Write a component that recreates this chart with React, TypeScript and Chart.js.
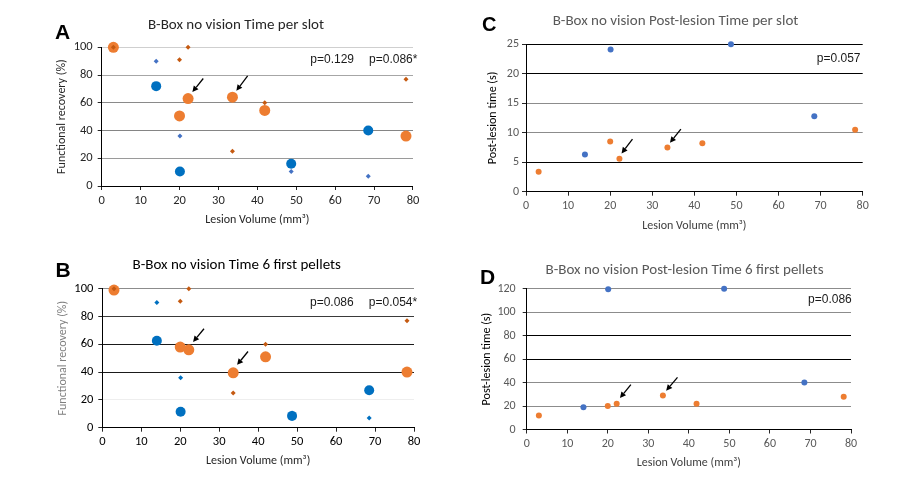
import { useEffect, useRef } from 'react'
import { Chart, registerables } from 'chart.js'

Chart.register(...registerables)

// ─── Data ───────────────────────────────────────────────────────────────────

// Lesion volumes (mm³) of the two groups, shared by every panel.
const ORANGE_VOLUME = [3, 20, 22.2, 33.6, 41.9, 78.2]
const BLUE_VOLUME   = [14, 20.1, 48.7, 68.5]

// Pre-lesion values (small markers), identical in A and B.
const ORANGE_PRE = [100, 91, 100, 25, 60, 77]
const BLUE_PRE   = [90, 36, 10.5, 7]

// A – Time per slot, functional recovery (%)
const A_ORANGE = [100, 50.5, 63, 64, 54.5, 36]
const A_BLUE   = [72, 10.5, 16, 40]

// B – Time 6 first pellets, functional recovery (%)
const B_ORANGE = [99, 58, 56, 39.5, 51, 40]
const B_BLUE   = [62.5, 11.5, 8.5, 27]

// C – Post-lesion time per slot (s)
const C_ORANGE = [3.4, 8.5, 5.6, 7.5, 8.2, 10.5]
const C_BLUE   = [6.3, 24.1, 25, 12.8]

// D – Post-lesion time 6 first pellets (s)
const D_ORANGE = [12, 20, 22, 29, 22, 28]
const D_BLUE   = [19, 119.5, 120, 40]

// Arrows [fromX, fromY, toX, toY] in data units
const A_ARROWS = [[26.1, 77.5, 23.3, 67.8], [37.5, 79.4, 34.6, 68.6]]
const B_ARROWS = [[26.1, 71.2, 23.3, 61.6], [37.4, 54.8, 34.6, 45.2]]
const C_ARROWS = [[25.3, 8.9, 22.7, 6.5], [36.8, 10.6, 34.2, 8.3]]
const D_ARROWS = [[25.7, 38.2, 23.0, 26.9], [37.2, 44.4, 34.4, 33.1]]

// p-value labels
const A_PVALS = [{ text: 'p=0.129', x: 53.6, y: 91.4 }, { text: 'p=0.086*', x: 68.7, y: 91.4 }]
const B_PVALS = [{ text: 'p=0.086', x: 53.3, y: 90.1 }, { text: 'p=0.054*', x: 68.4, y: 90.1 }]
const C_PVALS = [{ text: 'p=0.057', x: 69.1, y: 22.5 }]
const D_PVALS = [{ text: 'p=0.086', x: 69.4, y: 111 }]

// ─── Styles ─────────────────────────────────────────────────────────────────

const PAGE_W = 902
const PAGE_H = 478
const FONT   = "Carlito, Calibri, Lato, 'Open Sans', sans-serif"
const P_FONT = "'Liberation Sans', Arial, sans-serif"

const ORANGE       = '#ED7D31'
const ORANGE_DARK  = '#C55A11'
const BLUE_BRIGHT  = '#0070C0'
const BLUE_OFFICE  = '#4472C4'

// Horizontal grid line colour per y tick (the source image mixes shades)
const A_GRID: Record<number, string> = { 0: '#000', 20: '#9a9a9a', 40: '#858585', 60: '#8a8a8a', 80: '#a6a6a6', 100: '#cfcfcf' }
const B_GRID: Record<number, string> = { 0: '#000', 20: '#eeeeee', 40: '#1a1a1a', 60: '#1a1a1a', 80: '#3a3a3a', 100: '#8c8c8c' }
const C_GRID: Record<number, string> = { 0: '#000', 5: '#000', 10: '#8c8c8c', 15: '#8c8c8c', 20: '#000', 25: '#000' }
const D_GRID: Record<number, string> = { 0: '#000', 20: '#8c8c8c', 40: '#8c8c8c', 60: '#000', 80: '#000', 100: '#8c8c8c', 120: '#8c8c8c' }

interface PanelSpec {
  letter: string
  letterPos: [number, number, number]
  title: string
  titlePos: [number, number]
  titleColor: string
  yTitle: string
  yTitleColor: string
  tickColor: string
  tickSize: number
  yMax: number
  yStep: number
  area: { l: number; t: number; r: number; b: number }
  yScaleW: number
  xScaleH: number
  yTickPad: number
  grid: Record<number, string>
  datasets: any[]
  arrows: number[][]
  pvals: { text: string; x: number; y: number }[]
}

function pts(xs: number[], ys: number[]) {
  return xs.map((x, i) => ({ x, y: ys[i] }))
}

function series(label: string, xs: number[], ys: number[], color: string, radius: number, style = 'circle') {
  return {
    label,
    data: pts(xs, ys),
    backgroundColor: color,
    borderColor: color,
    borderWidth: 0,
    pointStyle: style,
    pointRadius: radius,
    pointHoverRadius: radius,
    clip: false,
  }
}

const PANELS: PanelSpec[] = [
  {
    letter: 'A', letterPos: [55, 38.5, 21],
    title: 'B-Box no vision Time per slot', titlePos: [236, 25], titleColor: '#262626',
    yTitle: 'Functional recovery (%)', yTitleColor: '#262626', tickColor: '#262626', tickSize: 12.5,
    yMax: 100, yStep: 20,
    area: { l: 101.7, t: 47.3, r: 413, b: 186 }, yScaleW: 47.2, xScaleH: 41.2, yTickPad: 5,
    grid: A_GRID,
    datasets: [
      series('pre orange', ORANGE_VOLUME, ORANGE_PRE, ORANGE_DARK, 2.5, 'rectRot'),
      series('pre blue', BLUE_VOLUME, BLUE_PRE, BLUE_OFFICE, 2.5, 'rectRot'),
      series('orange', ORANGE_VOLUME, A_ORANGE, ORANGE, 5.5),
      series('blue', BLUE_VOLUME, A_BLUE, BLUE_BRIGHT, 5),
    ],
    arrows: A_ARROWS, pvals: A_PVALS,
  },
  {
    letter: 'B', letterPos: [55.5, 276.5, 21],
    title: 'B-Box no vision Time 6 first pellets', titlePos: [236.7, 265.7], titleColor: '#000',
    yTitle: 'Functional recovery (%)', yTitleColor: '#7f7f7f', tickColor: '#000', tickSize: 12.5,
    yMax: 100, yStep: 20,
    area: { l: 102.3, t: 288.7, r: 414, b: 427.7 }, yScaleW: 46.2, xScaleH: 40.5, yTickPad: 5,
    grid: B_GRID,
    datasets: [
      series('pre orange', ORANGE_VOLUME, ORANGE_PRE, ORANGE_DARK, 2.5, 'rectRot'),
      series('pre blue', BLUE_VOLUME, BLUE_PRE, BLUE_BRIGHT, 2.5, 'rectRot'),
      series('orange', ORANGE_VOLUME, B_ORANGE, ORANGE, 5.5),
      series('blue', BLUE_VOLUME, B_BLUE, BLUE_BRIGHT, 5),
    ],
    arrows: B_ARROWS, pvals: B_PVALS,
  },
  {
    letter: 'C', letterPos: [482, 30.7, 20],
    title: 'B-Box no vision Post-lesion Time per slot', titlePos: [675.5, 21.7], titleColor: '#595959',
    yTitle: 'Post-lesion time (s)', yTitleColor: '#000', tickColor: '#595959', tickSize: 12,
    yMax: 25, yStep: 5,
    area: { l: 526, t: 44.3, r: 862.7, b: 191.7 }, yScaleW: 40.7, xScaleH: 41.5, yTickPad: 3,
    grid: C_GRID,
    datasets: [
      series('blue', BLUE_VOLUME, C_BLUE, BLUE_OFFICE, 3),
      series('orange', ORANGE_VOLUME, C_ORANGE, ORANGE, 3),
    ],
    arrows: C_ARROWS, pvals: C_PVALS,
  },
  {
    letter: 'D', letterPos: [480, 284, 21],
    title: 'B-Box no vision Post-lesion Time 6 first pellets', titlePos: [684.5, 270.7], titleColor: '#595959',
    yTitle: 'Post-lesion time (s)', yTitleColor: '#000', tickColor: '#595959', tickSize: 12,
    yMax: 120, yStep: 20,
    area: { l: 526.7, t: 288.7, r: 851, b: 429.5 }, yScaleW: 47.2, xScaleH: 41, yTickPad: 7,
    grid: D_GRID,
    datasets: [
      series('blue', BLUE_VOLUME, D_BLUE, BLUE_OFFICE, 3),
      series('orange', ORANGE_VOLUME, D_ORANGE, ORANGE, 3),
    ],
    arrows: D_ARROWS, pvals: D_PVALS,
  },
]

// ─── Decoration plugin: arrows, p-values, panel letter and title ────────────

const decorPlugin = {
  id: 'panelDecor',
  afterDatasetsDraw(chart: any, _args: any, opts: any) {
    const spec: PanelSpec = opts.spec
    if (!spec) return
    const { ctx } = chart
    const xs = chart.scales.x
    const ys = chart.scales.y
    ctx.save()

    // arrows
    ctx.strokeStyle = '#000'
    ctx.fillStyle = '#000'
    ctx.lineWidth = 1.3
    for (const [x0, y0, x1, y1] of spec.arrows) {
      const px0 = xs.getPixelForValue(x0), py0 = ys.getPixelForValue(y0)
      const px1 = xs.getPixelForValue(x1), py1 = ys.getPixelForValue(y1)
      const ang = Math.atan2(py1 - py0, px1 - px0)
      const head = 6, half = 3
      const bx = px1 - head * Math.cos(ang), by = py1 - head * Math.sin(ang)
      ctx.beginPath()
      ctx.moveTo(px0, py0)
      ctx.lineTo(bx, by)
      ctx.stroke()
      ctx.beginPath()
      ctx.moveTo(px1, py1)
      ctx.lineTo(bx + half * Math.sin(ang), by - half * Math.cos(ang))
      ctx.lineTo(bx - half * Math.sin(ang), by + half * Math.cos(ang))
      ctx.closePath()
      ctx.fill()
    }

    // p-values
    ctx.font = `12px ${P_FONT}`
    ctx.fillStyle = '#1a1a1a'
    ctx.textAlign = 'left'
    ctx.textBaseline = 'middle'
    for (const p of spec.pvals) {
      ctx.fillText(p.text, xs.getPixelForValue(p.x), ys.getPixelForValue(p.y))
    }

    // panel title
    ctx.font = `15px ${FONT}`
    ctx.fillStyle = spec.titleColor
    ctx.textAlign = 'center'
    ctx.fillText(spec.title, spec.titlePos[0], spec.titlePos[1])

    // panel letter
    const [lx, ly, ls] = spec.letterPos
    ctx.font = `bold ${ls}px ${P_FONT}`
    ctx.fillStyle = '#000'
    ctx.textAlign = 'left'
    ctx.textBaseline = 'alphabetic'
    ctx.fillText(spec.letter, lx, ly)

    ctx.restore()
  },
}

// ─── Component ──────────────────────────────────────────────────────────────

function Panel({ spec }: { spec: PanelSpec }) {
  const canvasRef = useRef<HTMLCanvasElement>(null)

  useEffect(() => {
    const canvas = canvasRef.current
    if (!canvas) return
    const { l, t, r, b } = spec.area
    const tickFont = { family: FONT, size: spec.tickSize }
    const titleFont = { family: FONT, size: 12, lineHeight: 1.2 }

    const chart = new Chart(canvas, {
      type: 'scatter',
      data: { datasets: spec.datasets },
      plugins: [decorPlugin],
      options: {
        animation: false,
        responsive: false,
        devicePixelRatio: window.devicePixelRatio || 1,
        layout: {
          padding: {
            left: l - spec.yScaleW,
            top: t,
            right: PAGE_W - r,
            bottom: PAGE_H - b - spec.xScaleH,
          },
        },
        plugins: {
          legend: { display: false },
          tooltip: { enabled: false },
          title: { display: false },
          panelDecor: { spec },
        } as any,
        scales: {
          x: {
            type: 'linear',
            min: 0,
            max: 80,
            afterFit: (s: any) => { s.height = spec.xScaleH },
            ticks: { stepSize: 10, color: spec.tickColor, font: tickFont, padding: 3, maxRotation: 0 },
            grid: {
              drawOnChartArea: false,
              drawTicks: true,
              tickLength: 4,
              tickColor: '#262626',
            },
            border: { display: true, color: '#000', width: 1 },
            title: {
              display: true,
              text: 'Lesion Volume (mm³)',
              color: spec.tickColor === '#595959' ? '#404040' : '#262626',
              font: titleFont,
              padding: 0,
            },
          },
          y: {
            type: 'linear',
            min: 0,
            max: spec.yMax,
            afterFit: (s: any) => { s.width = spec.yScaleW },
            ticks: { stepSize: spec.yStep, color: spec.tickColor, font: tickFont, padding: spec.yTickPad },
            grid: {
              color: (ctx: any) => spec.grid[ctx.tick?.value] ?? '#8c8c8c',
              lineWidth: 1,
              drawTicks: true,
              tickLength: 4,
              tickColor: '#262626',
            },
            border: { display: true, color: '#000', width: 1 },
            title: {
              display: true,
              text: spec.yTitle,
              color: spec.yTitleColor,
              font: titleFont,
              padding: 0,
            },
          },
        },
      } as any,
    })

    return () => {
      chart.destroy()
    }
  }, [spec])

  return (
    <canvas
      ref={canvasRef}
      width={PAGE_W}
      height={PAGE_H}
      style={{ position: 'absolute', left: 0, top: 0, width: PAGE_W, height: PAGE_H }}
    />
  )
}

export default function App() {
  return (
    <div style={{
      position: 'fixed',
      left: 0,
      top: 0,
      width: PAGE_W,
      height: PAGE_H,
      background: '#fff',
      overflow: 'hidden',
    }}>
      {PANELS.map(p => <Panel key={p.letter} spec={p} />)}
    </div>
  )
}
